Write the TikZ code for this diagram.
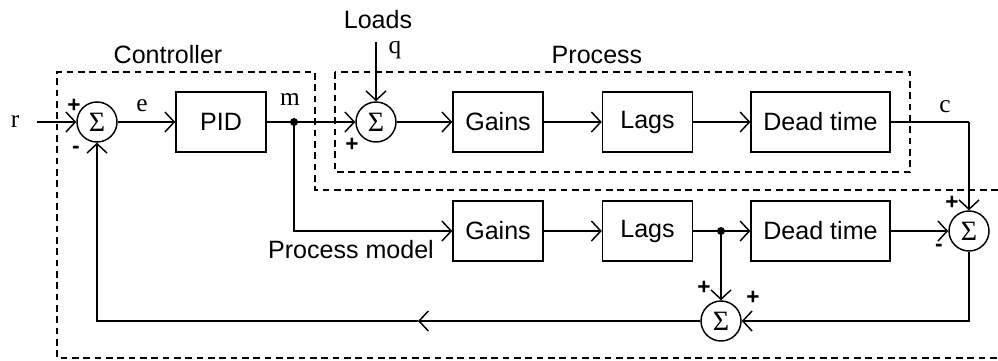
\documentclass[tikz,border=0pt]{standalone}
\usepackage{fontspec}
\setmainfont{Liberation Sans}
\newfontfamily\serif{Liberation Serif}
\usetikzlibrary{arrows.meta}

\begin{document}
\begin{tikzpicture}[x=0.75pt, y=-0.75pt, line width=1.1pt,
  >={Straight Barb[length=7pt,width=15pt,line width=1.1pt]},
  block/.style={draw, rectangle, minimum width=67.5pt, minimum height=45pt,
    inner sep=0pt, font=\fontsize{18.8}{20}\selectfont},
  sumnode/.style={draw, circle, minimum size=30pt, inner sep=0pt,
    font=\serif\fontsize{21}{22}\selectfont},
  sig/.style={font=\serif\fontsize{19}{21}\selectfont},
  sgn/.style={font=\bfseries\fontsize{17}{18}\selectfont},
  title/.style={font=\fontsize{18.8}{20}\selectfont},
  region/.style={dash pattern=on 5pt off 3.5pt, line width=0.9pt}]
  \useasboundingbox (0,0) rectangle (998,360);

  % Regiones (controlador y proceso)
  \draw[region] (335,72) rectangle (910,172);
  \draw[region] (998,190) -- (315,190) -- (315,72) -- (57,72) -- (57,358) -- (998,358);
  \node[title] (tctrl) at (168,55) {Controller};
  \node[title] (tproc) at (597,55) {Process};

  % Bloques
  \node[sumnode] (s1) at (97,122) {Σ};
  \node[block] (pid) at (221,122) {PID};
  \node[sumnode] (s2) at (376,122) {Σ};
  \node[block] (g1) at (498,122) {Gains};
  \node[block] (l1) at (647.5,122) {Lags};
  \node[block, minimum width=104pt] (d1) at (820.5,122) {Dead time};
  \node[block] (g2) at (498,231) {Gains};
  \node[block] (l2) at (647.5,231) {Lags};
  \node[block, minimum width=104pt] (d2) at (820.5,231) {Dead time};
  \node[sumnode] (s3) at (969,231) {Σ};
  \node[sumnode] (s4) at (721,321) {Σ};

  % Puntos auxiliares
  \coordinate (rin) at (37,122);
  \coordinate (m) at (294,122);
  \coordinate (ld) at (376,42);
  \coordinate (cc) at (969,122);
  \coordinate (tap) at (721,231);
  \coordinate (fbk) at (418,321);

  % Lazo directo
  \draw[->] (rin) -- (s1);
  \draw[->] (s1) -- (pid);
  \draw[->] (pid) -- (s2);
  \fill (m) circle (3pt);
  \draw[->] (ld) -- (s2);
  \draw[->] (s2) -- (g1);
  \draw[->] (g1) -- (l1);
  \draw[->] (l1) -- (d1);
  \draw (d1) -- (cc);
  \draw[->] (cc) -- (s3);

  % Modelo del proceso
  \draw[->] (m) |- (g2);
  \draw[->] (g2) -- (l2);
  \draw[->] (l2) -- (d2);
  \draw[->] (d2) -- (s3);
  \fill (tap) circle (3pt);
  \draw[->] (tap) -- (s4);
  \draw[->] (s3) |- (s4);

  % Realimentacion
  \draw[->] (s4) -- (fbk);
  \draw[->] (fbk) -| (s1);

  % Etiquetas
  \node[sig] (lr) at (15,122) {r};
  \node[sig] (le) at (142,106) {e};
  \node[sig] (lm) at (290,100) {m};
  \node[sig] (lq) at (395,50) {q};
  \node[sig] (lc) at (945,107) {c};
  \node[title] (lloads) at (378,20) {Loads};
  \node[title, anchor=east] (lmodel) at (439,250) {Process model};

  % Signos
  \node[sgn] at (74,106) {+};
  \node[sgn] at (76,150) {-};
  \node[sgn] at (352,145) {+};
  \node[sgn] at (952,203) {+};
  \node[sgn] at (939,248) {-};
  \node[sgn] at (704,288) {+};
  \node[sgn] at (753,298) {+};
\end{tikzpicture}
\end{document}
